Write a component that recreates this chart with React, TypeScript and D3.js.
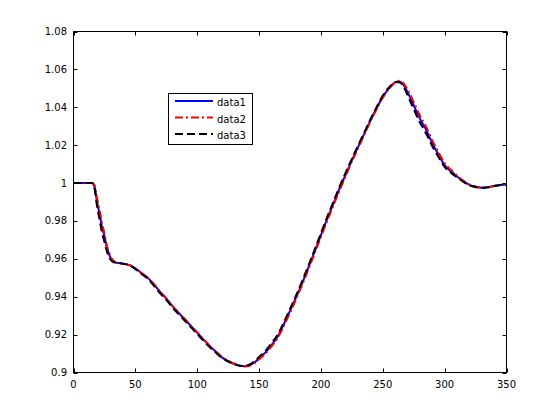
import React from 'react';
import * as d3 from 'd3';

// sample positions shared by the three runs
const xs = [
  0, 10, 15, 17, 19, 21, 23, 25, 27, 29, 31, 34, 38, 42, 46, 50, 55, 60, 65, 70,
  75, 80, 85, 90, 95, 100, 105, 110, 115, 120, 125, 130, 135, 138, 142, 146, 150, 155, 160, 165,
  170, 175, 180, 185, 190, 195, 200, 205, 210, 215, 220, 225, 230, 235, 240, 245, 250, 255, 258, 261,
  264, 267, 270, 274, 280, 285, 290, 295, 300, 305, 310, 315, 320, 325, 330, 335, 340, 345, 350,
];

const data1 = [
  1.0, 1.0, 1.0, 0.998, 0.99, 0.984, 0.977, 0.972, 0.966, 0.962, 0.9595, 0.958, 0.9577, 0.9572, 0.9565, 0.955, 0.9525, 0.95, 0.9465, 0.9425,
  0.939, 0.935, 0.9315, 0.928, 0.9245, 0.921, 0.9175, 0.914, 0.911, 0.908, 0.906, 0.9045, 0.9035, 0.9033, 0.9038, 0.9052, 0.9075, 0.9105, 0.9145, 0.919,
  0.9255, 0.9325, 0.9398, 0.9475, 0.9556, 0.964, 0.9725, 0.981, 0.989, 0.997, 1.0045, 1.012, 1.019, 1.026, 1.033, 1.0395, 1.0455, 1.05, 1.052, 1.0535,
  1.0535, 1.0515, 1.048, 1.0425, 1.034, 1.0282, 1.021, 1.015, 1.0095, 1.0062, 1.0035, 1.001, 0.999, 0.998, 0.9975, 0.9978, 0.9985, 0.999, 0.9993,
];

const data2 = [
  1.0, 1.0, 1.0, 0.999, 0.992, 0.986, 0.979, 0.9735, 0.967, 0.963, 0.96, 0.9582, 0.9577, 0.9572, 0.9565, 0.955, 0.9525, 0.95, 0.9467, 0.9427,
  0.9392, 0.9352, 0.9317, 0.9282, 0.9247, 0.9212, 0.9177, 0.9142, 0.9112, 0.9082, 0.9062, 0.9046, 0.9035, 0.9032, 0.9035, 0.9048, 0.907, 0.9098, 0.9137, 0.9181,
  0.9245, 0.9315, 0.9388, 0.9465, 0.9546, 0.963, 0.9715, 0.98, 0.988, 0.996, 1.0036, 1.0112, 1.0183, 1.0254, 1.0325, 1.039, 1.045, 1.0497, 1.0519, 1.0536,
  1.054, 1.0525, 1.0495, 1.0442, 1.0357, 1.0298, 1.0225, 1.0163, 1.0105, 1.007, 1.004, 1.0013, 0.9992, 0.9981, 0.9976, 0.9978, 0.9985, 0.999, 0.9993,
];

const data3 = [
  1.0, 1.0, 1.0, 0.997, 0.988, 0.981, 0.974, 0.969, 0.964, 0.9605, 0.9588, 0.958, 0.9577, 0.9572, 0.9563, 0.9546, 0.952, 0.9494, 0.9458, 0.9418,
  0.9383, 0.9343, 0.9308, 0.9273, 0.9238, 0.9203, 0.9168, 0.9134, 0.9105, 0.9077, 0.9058, 0.9044, 0.9035, 0.9034, 0.9041, 0.9058, 0.9082, 0.9113, 0.9154, 0.92,
  0.9265, 0.9335, 0.9408, 0.9485, 0.9566, 0.965, 0.9735, 0.982, 0.99, 0.998, 1.0055, 1.0128, 1.0198, 1.0267, 1.0336, 1.04, 1.0462, 1.0505, 1.0524, 1.0533,
  1.053, 1.0505, 1.0465, 1.0405, 1.032, 1.0262, 1.0195, 1.0138, 1.0085, 1.0055, 1.003, 1.0007, 0.9988, 0.9979, 0.9975, 0.9978, 0.9985, 0.999, 0.9993,
];

const xTicks = [0, 50, 100, 150, 200, 250, 300, 350];
const yTicks = [0.9, 0.92, 0.94, 0.96, 0.98, 1, 1.02, 1.04, 1.06, 1.08];

const seriesNames = ['data1', 'data2', 'data3'];
const seriesColors = ['#0000ff', '#ff0000', '#000000'];
const seriesDash = [null, '8,3,2,3', '8,4'];

const W = 560;
const H = 420;
const FONT = '"DejaVu Sans", sans-serif';

const App = () => {
  const x = d3.scaleLinear().domain([0, 350]).range([73.5, 506.5]);
  const y = d3.scaleLinear().domain([0.9, 1.08]).range([372.5, 31.5]);

  const line = d3.line<number>()
    .x((_, i) => x(xs[i]))
    .y(d => y(d))
    .curve(d3.curveMonotoneX);

  const all = [data1, data2, data3];
  const tickLen = 4;

  // legend box
  const lg = { x: 168.5, y: 93.5, w: 84, h: 51 };
  const rowY = [101, 117.5, 134];

  return (
    <div style={{ position: 'absolute', left: 0, top: 0 }}>
      <svg width={W} height={H} style={{ display: 'block', background: '#fff' }}>
        <rect width={W} height={H} fill="#fff" />

        {/* lines */}
        {all.map((vals, k) => (
          <path
            key={seriesNames[k]}
            d={line(vals) || ''}
            fill="none"
            stroke={seriesColors[k]}
            strokeWidth={2}
            strokeDasharray={seriesDash[k] || undefined}
          />
        ))}

        {/* axes box */}
        <rect x={73.5} y={31.5} width={433} height={341} fill="none" stroke="#000" strokeWidth={1} />

        {xTicks.map(t => (
          <g key={`xt${t}`}>
            <line x1={Math.round(x(t)) + 0.5} x2={Math.round(x(t)) + 0.5} y1={372.5} y2={372.5 - tickLen} stroke="#000" />
            <line x1={Math.round(x(t)) + 0.5} x2={Math.round(x(t)) + 0.5} y1={31.5} y2={31.5 + tickLen} stroke="#000" />
            <text x={x(t)} y={388} textAnchor="middle" fontSize={10} fontFamily={FONT} fill="#000">{t}</text>
          </g>
        ))}

        {yTicks.map(t => (
          <g key={`yt${t}`}>
            <line x1={73.5} x2={73.5 + tickLen} y1={Math.round(y(t)) + 0.5} y2={Math.round(y(t)) + 0.5} stroke="#000" />
            <line x1={506.5} x2={506.5 - tickLen} y1={Math.round(y(t)) + 0.5} y2={Math.round(y(t)) + 0.5} stroke="#000" />
            <text x={67} y={y(t)} dy="0.35em" textAnchor="end" fontSize={10} fontFamily={FONT} fill="#000">{d3.format('')(+t.toFixed(2))}</text>
          </g>
        ))}

        {/* legend */}
        <rect x={lg.x} y={lg.y} width={lg.w} height={lg.h} fill="#fff" stroke="#000" strokeWidth={1} />
        {seriesNames.map((name, k) => (
          <g key={`lg${name}`}>
            <line
              x1={175} x2={213} y1={rowY[k]} y2={rowY[k]}
              stroke={seriesColors[k]} strokeWidth={2}
              strokeDasharray={seriesDash[k] || undefined}
            />
            <text x={217} y={rowY[k] + 5} fontSize={10} fontFamily={FONT} fill="#000">{name}</text>
          </g>
        ))}
      </svg>
    </div>
  );
};

export default App;
